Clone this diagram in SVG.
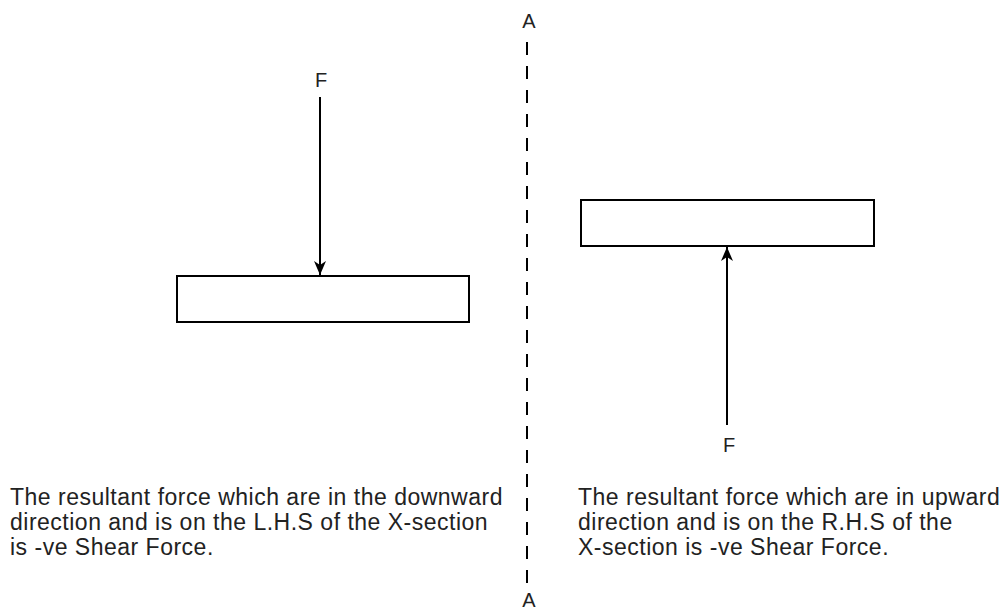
<svg xmlns="http://www.w3.org/2000/svg" width="1004" height="615" viewBox="0 0 1004 615">
<defs>
<style>
.t{font-family:"Liberation Sans",Arial,sans-serif;font-size:23px;letter-spacing:0.5px;fill:#222}
.lbl{font-family:"Liberation Sans",Arial,sans-serif;font-size:20px;fill:#222;text-anchor:middle}
.box{fill:#fff;stroke:#000;stroke-width:2}
.ln{stroke:#000;stroke-width:2;fill:none}
</style>
<marker id="ah" viewBox="0 0 14 12" refX="14" refY="6" markerWidth="14" markerHeight="12" markerUnits="userSpaceOnUse" orient="auto">
<path d="M0,0 L14,6 L0,12 L4,6 Z" fill="#000"/>
</marker>
</defs>
<rect width="1004" height="615" fill="#fff"/>
<g id="section-line">
<line x1="527" y1="42" x2="527" y2="585" stroke="#000" stroke-width="2" stroke-dasharray="13 11"/>
<text class="lbl" x="529" y="28">A</text>
<text class="lbl" x="529" y="607">A</text>
</g>
<g id="left-beam"><rect class="box" x="177" y="276" width="292" height="46"/></g>
<g id="right-beam"><rect class="box" x="581" y="200" width="293" height="46"/></g>
<g id="force-left"><text class="lbl" x="321" y="87">F</text></g>
<g id="force-right"><text class="lbl" x="729" y="452">F</text></g>
<g id="connectors">
<line class="ln" x1="320" y1="97" x2="320" y2="275" marker-end="url(#ah)"/>
<line class="ln" x1="727" y1="425" x2="727" y2="247" marker-end="url(#ah)"/>
</g>
<g id="left-text">
<text class="t" x="10" y="505">The resultant force which are in the downward</text>
<text class="t" x="10" y="530">direction and is on the L.H.S of the X-section</text>
<text class="t" x="10" y="555">is -ve Shear Force.</text>
</g>
<g id="right-text">
<text class="t" x="578" y="505">The resultant force which are in upward</text>
<text class="t" x="578" y="530">direction and is on the R.H.S of the</text>
<text class="t" x="578" y="555">X-section is -ve Shear Force.</text>
</g>
</svg>
